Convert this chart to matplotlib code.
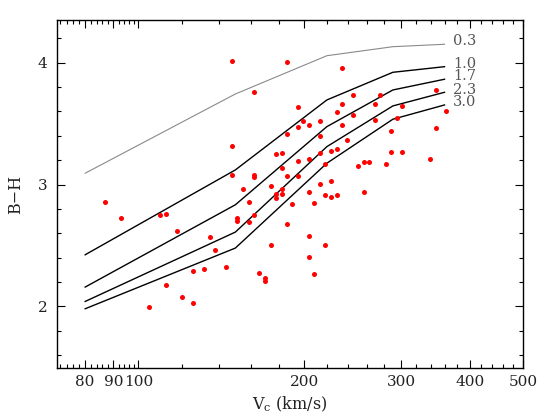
import matplotlib
matplotlib.use('Agg')
import matplotlib.pyplot as plt
from matplotlib.ticker import FixedLocator, FixedFormatter, NullFormatter

plt.rcParams['font.family'] = 'DejaVu Serif'
plt.rcParams['mathtext.fontset'] = 'dejavuserif'

# galaxies: rotation velocity (km/s) and B-H colour
vc = [148.0, 186.0, 162.0, 194.8, 199.3, 213.7, 194.8, 204.0, 186.0, 213.7,
      148.0, 177.7, 182.0, 223.8, 194.8, 204.0, 213.7, 229.2, 239.7, 218.6,
      182.0, 148.0, 162.0, 162.0, 186.0, 194.8, 213.7, 223.8, 173.8, 154.7,
      182.0, 177.7, 177.7, 182.0, 204.0, 218.6, 223.8, 229.2, 208.7, 190.3,
      158.5, 162.0, 151.1, 151.1, 158.5, 186.0, 134.7, 137.8, 173.8, 204.0,
      218.6, 204.0, 144.3, 165.9, 169.6, 169.6, 208.7, 234.3, 245.4, 275.3,
      346.7, 234.3, 269.1, 301.8, 229.2, 362.5, 245.4, 294.7, 269.1, 234.3,
      288.2, 346.7, 288.2, 301.8, 256.7, 262.9, 251.0, 281.4, 338.5, 256.7,
      87.0, 93.1, 109.5, 112.2, 117.3, 131.7, 125.8, 112.2, 120.1, 125.8,
      104.6]
bh = [4.016, 4.006, 3.757, 3.637, 3.525, 3.520, 3.475, 3.487, 3.418, 3.397,
      3.317, 3.248, 3.257, 3.278, 3.197, 3.208, 3.257, 3.295, 3.366, 3.170,
      3.137, 3.077, 3.077, 3.066, 3.067, 3.067, 3.007, 3.033, 2.989, 2.961,
      2.965, 2.920, 2.887, 2.920, 2.936, 2.916, 2.898, 2.916, 2.846, 2.838,
      2.858, 2.749, 2.725, 2.702, 2.694, 2.675, 2.569, 2.467, 2.508, 2.577,
      2.508, 2.407, 2.325, 2.276, 2.235, 2.205, 2.266, 3.959, 3.738, 3.738,
      3.776, 3.659, 3.659, 3.648, 3.598, 3.607, 3.569, 3.549, 3.528, 3.487,
      3.440, 3.467, 3.268, 3.268, 3.186, 3.186, 3.156, 3.167, 3.208, 2.938,
      2.856, 2.727, 2.749, 2.757, 2.618, 2.307, 2.287, 2.175, 2.077, 2.025,
      1.998]

# model tracks
v_model = [80, 150, 220, 290, 360]
tracks = {
    '0.3': [3.093, 3.743, 4.057, 4.131, 4.151],
    '1.0': [2.424, 3.120, 3.694, 3.921, 3.967],
    '1.7': [2.159, 2.834, 3.475, 3.776, 3.864],
    '2.3': [2.041, 2.610, 3.311, 3.645, 3.757],
    '3.0': [1.981, 2.479, 3.175, 3.536, 3.653],
}

major_x = [80, 90, 100, 200, 300, 400, 500]
minor_x = list(range(72, 100, 2)) + list(range(120, 500, 20))

fig = plt.figure(figsize=(5.56, 4.15), dpi=100)
ax = fig.add_axes([57 / 556, 1 - 368 / 415, 466 / 556, 348 / 415])

for name, vals in tracks.items():
    if name == '0.3':
        ax.plot(v_model, vals, color='#8a8a8a', lw=0.8)
    else:
        ax.plot(v_model, vals, color='black', lw=1.0)
    ax.annotate(name, (v_model[-1], vals[-1]), xytext=(6, 2),
                textcoords='offset points', fontsize=10.5, color='#555555',
                va='center', ha='left')

ax.plot(vc, bh, 'o', color='red', markersize=3.6, markeredgewidth=0)

ax.set_xscale('log')
ax.set_xlim(71.1, 500)
ax.set_ylim(1.495, 4.35)

ax.xaxis.set_major_locator(FixedLocator(major_x))
ax.xaxis.set_major_formatter(FixedFormatter([str(v) for v in major_x]))
ax.xaxis.set_minor_locator(FixedLocator(minor_x))
ax.xaxis.set_minor_formatter(NullFormatter())
ax.set_yticks([2, 3, 4])
ax.set_yticks([1.6, 1.8, 2.2, 2.4, 2.6, 2.8, 3.2, 3.4, 3.6, 3.8, 4.2], minor=True)

ax.tick_params(which='both', direction='in', top=True, right=True,
               labelsize=11, labelcolor='#222222', width=0.8)
ax.tick_params(which='major', length=5.5)
ax.tick_params(which='minor', length=3)
ax.tick_params(axis='x', which='major', pad=5)
ax.tick_params(axis='y', which='major', pad=7)
for sp in ax.spines.values():
    sp.set_linewidth(1.0)

ax.set_xlabel(r'V$_\mathrm{c}$ (km/s)', fontsize=11.5, labelpad=4, color='#222222')
ax.set_ylabel('B\u2212H', fontsize=11.5, labelpad=10, color='#222222')

fig.savefig('out.png', dpi=100)
